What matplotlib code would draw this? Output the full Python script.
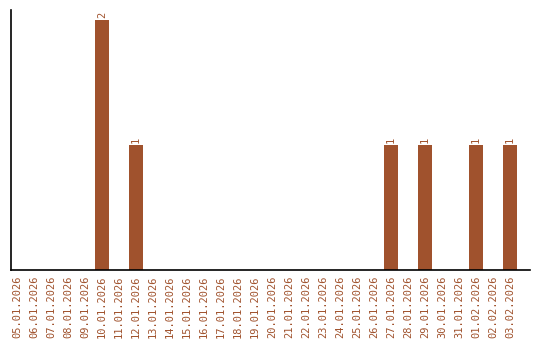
import matplotlib
matplotlib.use('Agg')
import matplotlib.pyplot as plt

dates = ['05.01.2026', '06.01.2026', '07.01.2026', '08.01.2026', '09.01.2026',
         '10.01.2026', '11.01.2026', '12.01.2026', '13.01.2026', '14.01.2026',
         '15.01.2026', '16.01.2026', '17.01.2026', '18.01.2026', '19.01.2026',
         '20.01.2026', '21.01.2026', '22.01.2026', '23.01.2026', '24.01.2026',
         '25.01.2026', '26.01.2026', '27.01.2026', '28.01.2026', '29.01.2026',
         '30.01.2026', '31.01.2026', '01.02.2026', '02.02.2026', '03.02.2026']
counts = [0, 0, 0, 0, 0, 2, 0, 1, 0, 0,
          0, 0, 0, 0, 0, 0, 0, 0, 0, 0,
          0, 0, 1, 0, 1, 0, 0, 1, 0, 1]

color = '#A0522D'
plt.rcParams['font.family'] = ['DejaVu Sans Mono']

fig = plt.figure(figsize=(5.4, 3.4), dpi=100)
ax = fig.add_axes([11/540, 70/340, 519/540, 260/340])

x = list(range(len(dates)))
ax.bar(x, counts, width=0.82, color=color)
for i, c in zip(x, counts):
    if c > 0:
        ax.text(i, c + 0.02, str(c), rotation=90, ha='center', va='bottom',
                fontsize=7.5, color=color)

ax.set_xlim(-0.35, 30.18)
ax.set_ylim(0, 2.08)
ax.set_xticks(x)
ax.set_xticklabels(dates, rotation=90, fontsize=7.5, color=color)
ax.set_yticks([])
ax.tick_params(axis='x', length=0, pad=4)
ax.spines['top'].set_visible(False)
ax.spines['right'].set_visible(False)
ax.spines['left'].set_linewidth(1.2)
ax.spines['bottom'].set_linewidth(1.2)

fig.savefig('out.png', dpi=100)
